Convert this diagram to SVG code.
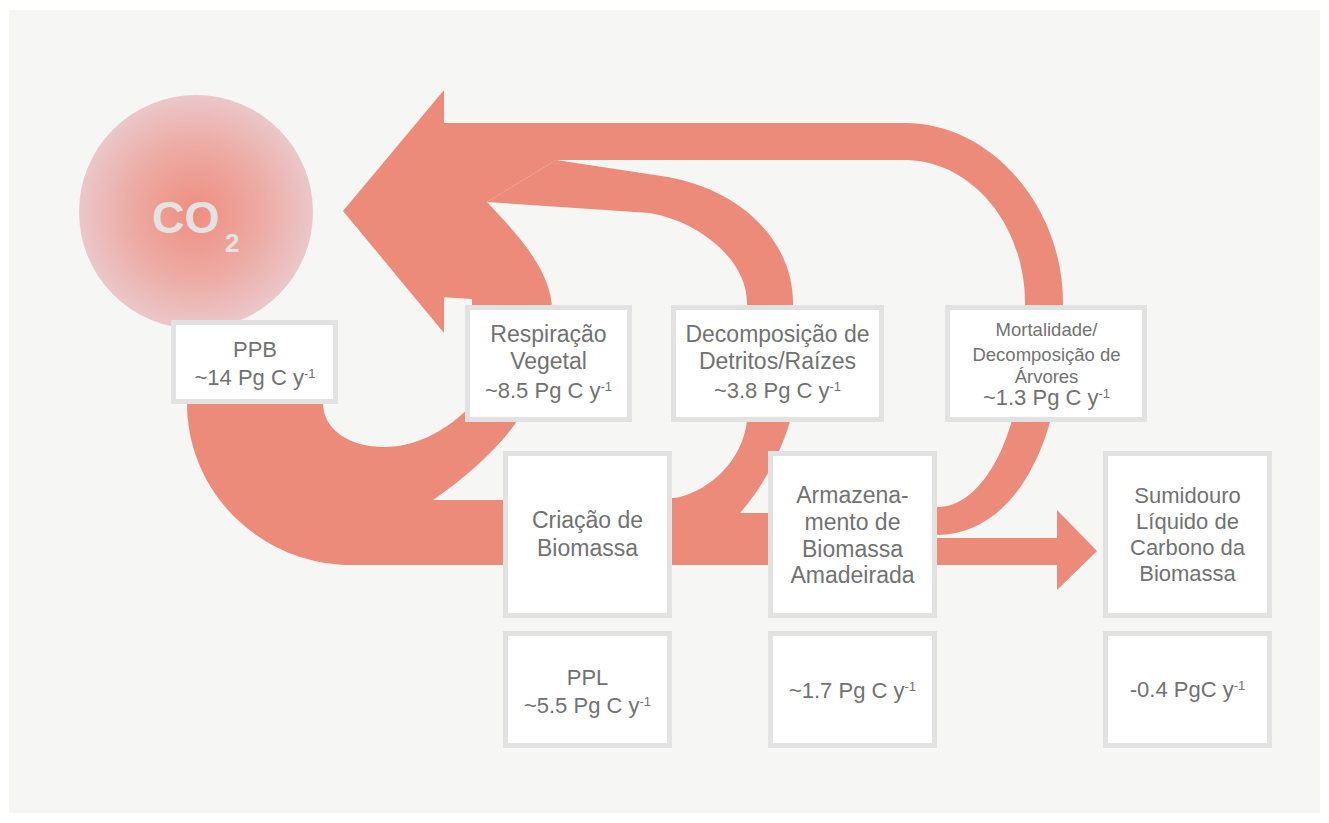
<svg xmlns="http://www.w3.org/2000/svg" width="1329" height="823" viewBox="0 0 1329 823">
  <defs>
    <radialGradient id="co2grad" cx="50%" cy="50%" r="50%">
      <stop offset="0%" stop-color="#ee8e7f"/>
      <stop offset="55%" stop-color="#edaaa3"/>
      <stop offset="100%" stop-color="#ebc7c9"/>
    </radialGradient>
    <style>
      .flow { fill: #ec8b79; stroke: none; }
      .box { fill: #ffffff; stroke: #e2e2e2; stroke-width: 5; }
      .lbl { font-family: "Liberation Sans", Arial, sans-serif; font-size: 22px; fill: #727272; text-anchor: middle; }
      .big { font-size: 23px; }
      .sm { font-size: 18.5px; }
      .sup { font-size: 13px; }
      .co2 { font-family: "Liberation Sans", Arial, sans-serif; font-weight: bold; fill: #e3e3e3; }
    </style>
  </defs>

  <rect x="0" y="0" width="1329" height="823" fill="#ffffff"/>
  <rect x="9" y="10" width="1311" height="803" fill="#f6f6f4"/>

  <g id="connectors">
    <!-- PPB band + respiration band -->
    <path class="flow" d="M 187 380 L 187 403 C 187 492, 260 565, 352 565 L 510 565 L 510 500 L 433 500 C 505 450, 555 390, 552 310 C 552 270, 515 232, 487 202 L 556 160 L 556 123 L 440 123 L 440 297 L 472 299 L 472 405 C 445 432, 415 447, 384 447 C 350 447, 323 430, 323 403 L 323 380 Z"/>
    <!-- big arrowhead to CO2 -->
    <polygon class="flow" points="343,211 444,90 444,333"/>
    <!-- mortality band -->
    <path class="flow" d="M 440 123 L 905 123 C 990 123, 1063 205, 1063 303 L 1063 320 C 1063 450, 1010 535, 937 535 L 925 535 L 925 507 L 937 507 C 985 507, 1025 430, 1025 320 L 1025 303 C 1025 224, 971 160, 904 160 L 440 160 Z"/>
    <!-- detritus band -->
    <path class="flow" d="M 556 160 L 668 177 C 740 190, 793 240, 793 303 L 793 410 C 785 445, 765 485, 740 513 L 665 513 L 665 498 L 672 498 C 690 498, 740 475, 747 421 L 747 303 C 747 260, 700 222, 650 213 L 487 202 Z"/>
    <!-- horizontal band Criação -> Armazenamento -->
    <rect class="flow" x="660" y="513" width="115" height="52"/>
    <!-- arrow to Sumidouro -->
    <rect class="flow" x="930" y="538" width="130" height="27"/>
    <polygon class="flow" points="1057,510 1097,551 1057,590"/>
  </g>

  <g id="co2">
    <circle cx="196" cy="212" r="117" fill="url(#co2grad)"/>
    <text class="co2" x="152" y="233" font-size="45">CO</text>
    <text class="co2" x="225" y="252" font-size="26">2</text>
  </g>

  <g id="ppb">
    <rect class="box" x="173.5" y="322.5" width="162" height="79"/>
    <text class="lbl" x="255" y="357">PPB</text>
    <text class="lbl" x="255" y="385">~14 Pg C y<tspan class="sup" dy="-7">-1</tspan></text>
  </g>

  <g id="respiracao">
    <rect class="box" x="467.5" y="307.5" width="162" height="112"/>
    <text class="lbl big" x="548.5" y="342">Respiração</text>
    <text class="lbl big" x="548.5" y="369">Vegetal</text>
    <text class="lbl" x="548.5" y="398">~8.5 Pg C y<tspan class="sup" dy="-7">-1</tspan></text>
  </g>

  <g id="decomposicao">
    <rect class="box" x="673.5" y="307.5" width="208" height="112"/>
    <text class="lbl big" x="777.5" y="342">Decomposição de</text>
    <text class="lbl big" x="777.5" y="369">Detritos/Raízes</text>
    <text class="lbl" x="777.5" y="398">~3.8 Pg C y<tspan class="sup" dy="-7">-1</tspan></text>
  </g>

  <g id="mortalidade">
    <rect class="box" x="947.5" y="307.5" width="197" height="112"/>
    <text class="lbl sm" x="1046.5" y="336">Mortalidade/</text>
    <text class="lbl sm" x="1046.5" y="361">Decomposição de</text>
    <text class="lbl sm" x="1046.5" y="383">Árvores</text>
    <text class="lbl" x="1046.5" y="405">~1.3 Pg C y<tspan class="sup" dy="-7">-1</tspan></text>
  </g>

  <g id="criacao">
    <rect class="box" x="505.5" y="453.5" width="164" height="162"/>
    <text class="lbl big" x="587.5" y="528">Criação de</text>
    <text class="lbl big" x="587.5" y="556">Biomassa</text>
  </g>

  <g id="armazenamento">
    <rect class="box" x="770.5" y="453.5" width="164" height="162"/>
    <text class="lbl big" x="852.5" y="503">Armazena-</text>
    <text class="lbl big" x="852.5" y="530">mento de</text>
    <text class="lbl big" x="852.5" y="557">Biomassa</text>
    <text class="lbl big" x="852.5" y="583">Amadeirada</text>
  </g>

  <g id="sumidouro">
    <rect class="box" x="1105.5" y="453.5" width="164" height="162"/>
    <text class="lbl" x="1187.5" y="503">Sumidouro</text>
    <text class="lbl" x="1187.5" y="529">Líquido de</text>
    <text class="lbl" x="1187.5" y="555">Carbono da</text>
    <text class="lbl" x="1187.5" y="581">Biomassa</text>
  </g>

  <g id="ppl">
    <rect class="box" x="505.5" y="633.5" width="164" height="112"/>
    <text class="lbl" x="587.5" y="685">PPL</text>
    <text class="lbl" x="587.5" y="713">~5.5 Pg C y<tspan class="sup" dy="-7">-1</tspan></text>
  </g>

  <g id="armazenamento-valor">
    <rect class="box" x="770.5" y="633.5" width="164" height="112"/>
    <text class="lbl" x="852.5" y="698">~1.7 Pg C y<tspan class="sup" dy="-7">-1</tspan></text>
  </g>

  <g id="sumidouro-valor">
    <rect class="box" x="1105.5" y="633.5" width="164" height="112"/>
    <text class="lbl" x="1187.5" y="697">-0.4 PgC y<tspan class="sup" dy="-7">-1</tspan></text>
  </g>
</svg>
